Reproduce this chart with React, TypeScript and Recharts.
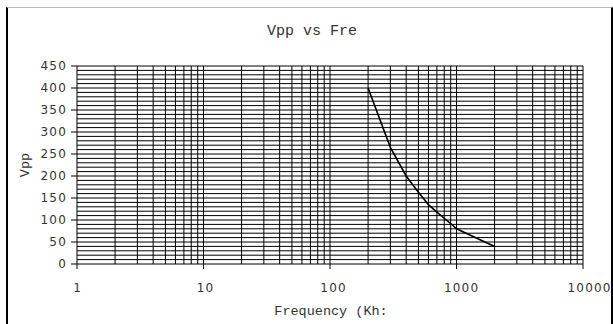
import { LineChart, Line, XAxis, YAxis, ReferenceLine } from 'recharts';

// values
const freqs = [200, 300, 400, 500, 600, 700, 800, 900, 1000, 2000];
const vpps = [400, 265, 200, 163, 135, 118, 104, 92, 80, 40];

const xTicks = [1, 10, 100, 1000, 10000];
const yTicks = [0, 50, 100, 150, 200, 250, 300, 350, 400, 450];

// log-paper grid lines
const xGrid = [
  2, 3, 4, 5, 6, 7, 8, 9, 10,
  20, 30, 40, 50, 60, 70, 80, 90, 100,
  200, 300, 400, 500, 600, 700, 800, 900, 1000,
  2000, 3000, 4000, 5000, 6000, 7000, 8000, 9000, 10000,
];
const yGrid = Array.from({ length: 45 }, (_, i) => (i + 1) * 10);

const data = freqs.map((f, i) => ({ freq: f, vpp: vpps[i] }));

const mono = '"Liberation Mono", "DejaVu Sans Mono", monospace';
const sans = '"DejaVu Sans", Verdana, sans-serif';

function XTick(props: any) {
  const { x, y, payload } = props;
  const s = String(payload.value);
  return (
    <text
      x={x}
      y={y}
      dy="0.71em"
      dx={(s.length - 1) * 1.5 + 0.6}
      textAnchor="middle"
      fontSize={12}
      letterSpacing={1.2}
      fontFamily={sans}
      fill="#333"
    >
      {s}
    </text>
  );
}

export default function App() {
  return (
    <div style={{ position: 'absolute', left: 0, top: 0, width: 613, height: 324, overflow: 'hidden', background: '#fff' }}>
      <div style={{ position: 'absolute', left: 0, top: 0 }}>
        <LineChart width={613} height={324} data={data} margin={{ top: 66, right: 30, bottom: 20, left: 17 }}>
          {yGrid.map((v) => (
            <ReferenceLine key={'y' + v} y={v} stroke="#000" strokeWidth={1} />
          ))}
          {xGrid.map((v) => (
            <ReferenceLine key={'x' + v} x={v} stroke="#000" strokeWidth={1} />
          ))}
          <XAxis
            dataKey="freq"
            type="number"
            scale="log"
            domain={[1, 10000]}
            ticks={xTicks}
            allowDataOverflow
            height={40}
            stroke="#000"
            tickSize={5}
            tickMargin={14}
            tick={<XTick />}
          />
          <YAxis
            type="number"
            domain={[0, 450]}
            ticks={yTicks}
            width={60}
            stroke="#000"
            tickSize={6}
            tickMargin={4}
            tick={{ fontSize: 12, fill: '#333', fontFamily: sans, letterSpacing: 1.2 }}
          />
          <Line
            type="linear"
            dataKey="vpp"
            stroke="#000"
            strokeWidth={1.6}
            dot={false}
            isAnimationActive={false}
          />
        </LineChart>
      </div>
      <div
        style={{
          position: 'absolute', left: 6, top: 7, width: 603, height: 317,
          borderLeft: '2px solid #000', borderRight: '2px solid #000', borderTop: '1px solid #bbb',
          pointerEvents: 'none',
        }}
      />
      <svg width={613} height={324} style={{ position: 'absolute', left: 0, top: 0, pointerEvents: 'none' }}>
        <text x={312} y={35} textAnchor="middle" fontFamily={mono} fontSize={15} fill="#333">Vpp vs Fre</text>
        <text x={331} y={315} textAnchor="middle" fontFamily={mono} fontSize={13.5} fill="#333">Frequency (Kh:</text>
        <text x={29} y={165} textAnchor="middle" fontFamily={mono} fontSize={13.5} fill="#333" transform="rotate(-90 29 165)">Vpp</text>
      </svg>
    </div>
  );
}
